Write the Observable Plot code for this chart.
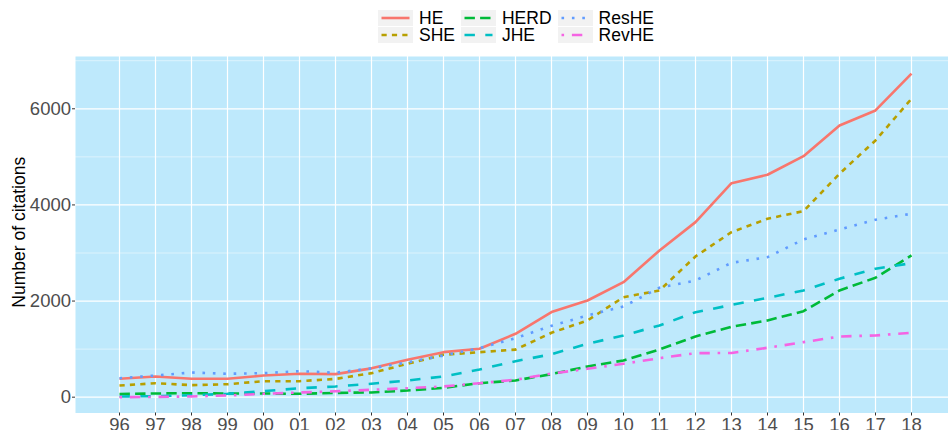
<!DOCTYPE html>
<html>
<head>
<meta charset="utf-8">
<script src="https://cdn.jsdelivr.net/npm/d3@7"></script>
<script src="https://cdn.jsdelivr.net/npm/@observablehq/plot@0.6"></script>
<style>
  html, body { margin: 0; padding: 0; background: #fff; }
  body { width: 948px; height: 430px; overflow: hidden; font-family: "Liberation Sans", Arial, sans-serif; }
  #legend { height: 56px; box-sizing: border-box; padding-top: 10px; padding-left: 378px; display: flex; gap: 6px; }
  .col { display: flex; flex-direction: column; gap: 1px; }
  .item { display: flex; align-items: center; height: 16px; gap: 6px; font-size: 17.5px; line-height: 16px; color: #000; }
  .item span { line-height: 16px; }
  .item svg { display: block; }
  #chart svg { display: block; }
</style>
</head>
<body>
<div id="legend"></div>
<div id="chart"></div>
<script>
const years = ["96","97","98","99","00","01","02","03","04","05","06","07","08","09","10","11","12","13","14","15","16","17","18"];
const seriesNames = ["HE","SHE","HERD","JHE","ResHE","RevHE"];
const HE    = [383, 430, 383, 383, 450, 487, 480, 600, 778, 937, 1007, 1319, 1770, 2012, 2393, 3053, 3642, 4453, 4628, 5015, 5654, 5966, 6730];
const SHE   = [243, 291, 250, 270, 333, 333, 380, 500, 695, 882, 937, 990, 1340, 1596, 2081, 2220, 2928, 3434, 3712, 3871, 4649, 5342, 6210];
const HERD  = [65, 77, 83, 77, 77, 70, 90, 98, 139, 195, 291, 348, 480, 639, 764, 993, 1263, 1464, 1596, 1790, 2220, 2485, 2949];
const JHE   = [15, 21, 40, 70, 125, 187, 223, 279, 348, 431, 576, 749, 893, 1111, 1284, 1492, 1769, 1918, 2068, 2220, 2464, 2672, 2789];
const ResHE = [395, 451, 514, 487, 500, 541, 510, 600, 722, 868, 1020, 1228, 1485, 1700, 1887, 2277, 2428, 2795, 2913, 3282, 3490, 3692, 3817];
const RevHE = [0, 5, 15, 35, 70, 98, 122, 154, 187, 223, 291, 362, 493, 590, 695, 812, 916, 920, 1028, 1145, 1263, 1284, 1340];
const yMajor = [0, 2000, 4000, 6000];
const yMinor = [1000, 3000, 5000, 7000];
const yTitle = "Number of citations";

const valuesBySeries = {HE, SHE, HERD, JHE, ResHE, RevHE};
const colors = {HE: "#F8766D", SHE: "#B79F00", HERD: "#00BA38", JHE: "#00BFC4", ResHE: "#619CFF", RevHE: "#F564E3"};
const lw = 2.6;
const dashes = {
  HE: null,
  SHE: [2, 2],
  HERD: [4, 2],
  JHE: [4, 4],
  ResHE: [1, 3],
  RevHE: [1, 3, 4, 3]
};
const dashStr = s => dashes[s] ? dashes[s].map(d => d * lw).join(",") : null;

const table = seriesNames.flatMap(s => years.map((y, i) => ({series: s, year: y, value: valuesBySeries[s][i]})));

const lineMarks = seriesNames.map(s => Plot.line(table.filter(d => d.series === s), {
  x: "year", y: "value", stroke: colors[s], strokeWidth: lw,
  strokeDasharray: dashStr(s), strokeLinecap: "butt", strokeLinejoin: "round"
}));

const chart = Plot.plot({
  width: 948,
  height: 374,
  marginTop: 0,
  marginBottom: 17.5,
  marginLeft: 75,
  marginRight: 0,
  style: {fontFamily: "'Liberation Sans', Arial, sans-serif", background: "white", overflow: "visible"},
  x: {type: "point", domain: years, range: [98.7, 932.3]},
  y: {domain: [-329, 7088]},
  marks: [
    Plot.frame({fill: "#bee9fc", stroke: null}),
    Plot.gridY(yMinor, {stroke: "white", strokeOpacity: 0.6, strokeWidth: 0.8}),
    Plot.gridY(yMajor, {stroke: "white", strokeOpacity: 1, strokeWidth: 1.2}),
    Plot.gridX({stroke: "white", strokeOpacity: 1, strokeWidth: 1.2}),
    ...lineMarks,
    Plot.axisY(yMajor, {tickSize: 3, tickPadding: 1.5, fontSize: 18.5, color: "#4d4d4d", stroke: "#333", label: null, tickFormat: d => String(d)}),
    Plot.axisX({tickSize: 3, tickPadding: 2, fontSize: 18.5, color: "#4d4d4d", stroke: "#333", label: null}),
    Plot.text([yTitle], {frameAnchor: "left", textAnchor: "middle", rotate: -90, dx: -56.5, dy: -2.5, fontSize: 17.5, fill: "#000"})
  ]
});
document.getElementById("chart").appendChild(chart);

// Legend
const legend = document.getElementById("legend");
const columns = [["HE","SHE"],["HERD","JHE"],["ResHE","RevHE"]];
for (const col of columns) {
  const c = document.createElement("div");
  c.className = "col";
  for (const s of col) {
    const it = document.createElement("div");
    it.className = "item";
    const ns = "http://www.w3.org/2000/svg";
    const svg = document.createElementNS(ns, "svg");
    svg.setAttribute("width", 35); svg.setAttribute("height", 16);
    const r = document.createElementNS(ns, "rect");
    r.setAttribute("width", 35); r.setAttribute("height", 16); r.setAttribute("fill", "#f2f2f2");
    svg.appendChild(r);
    const l = document.createElementNS(ns, "line");
    l.setAttribute("x1", 3.5); l.setAttribute("x2", 31.5); l.setAttribute("y1", 8); l.setAttribute("y2", 8);
    l.setAttribute("stroke", colors[s]); l.setAttribute("stroke-width", lw);
    if (dashStr(s)) l.setAttribute("stroke-dasharray", dashStr(s));
    svg.appendChild(l);
    it.appendChild(svg);
    const t = document.createElement("span");
    t.textContent = s;
    it.appendChild(t);
    c.appendChild(it);
  }
  legend.appendChild(c);
}
</script>
</body>
</html>
